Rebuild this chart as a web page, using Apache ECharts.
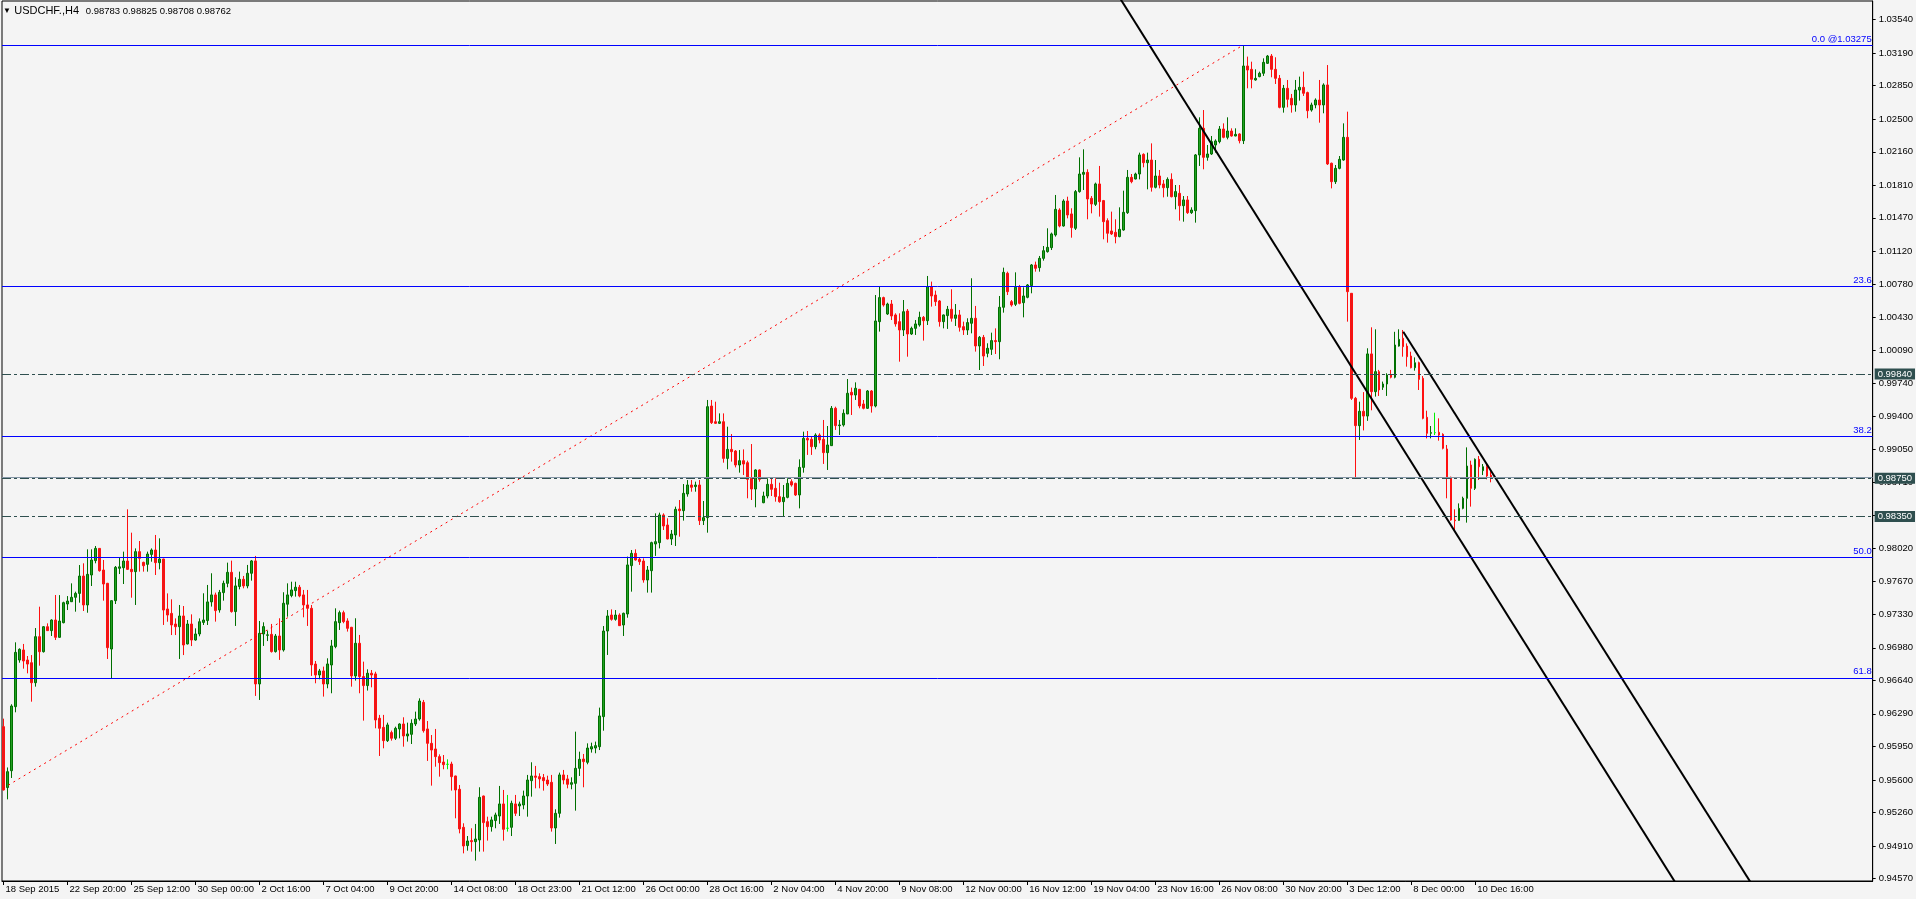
<!DOCTYPE html>
<html><head><meta charset="utf-8">
<script src="https://cdn.jsdelivr.net/npm/echarts@6/dist/echarts.min.js"></script>
<style>html,body{margin:0;padding:0;background:#f4f4f4;}#c{width:1916px;height:899px;}</style>
</head><body><div id="c"></div>
<script>
// ---------- data ----------
const symbolName = 'USDCHF.,H4';
const xLabels = ['18 Sep 2015','22 Sep 20:00','25 Sep 12:00','30 Sep 00:00','2 Oct 16:00','7 Oct 04:00','9 Oct 20:00','14 Oct 08:00','18 Oct 23:00','21 Oct 12:00','26 Oct 00:00','28 Oct 16:00','2 Nov 04:00','4 Nov 20:00','9 Nov 08:00','12 Nov 00:00','16 Nov 12:00','19 Nov 04:00','23 Nov 16:00','26 Nov 08:00','30 Nov 20:00','3 Dec 12:00','8 Dec 00:00','10 Dec 16:00'];
const barsPerLabel = 16;
const yTickLabels = ['1.03540','1.03190','1.02850','1.02500','1.02160','1.01810','1.01470','1.01120','1.00780','1.00430','1.00090','0.99740','0.99400','0.99050','0.98710','0.98360','0.98020','0.97670','0.97330','0.96980','0.96640','0.96290','0.95950','0.95600','0.95260','0.94910','0.94570'];

// prices in points (1 point = 0.00001)
const openPts = [
96156,95520,95696,96365,96852,96957,96852,96824,96615,97096,
96939,97200,97159,97270,97089,97242,97437,97461,97507,97548,
97729,97427,97740,97890,98018,97792,97653,96967,97472,97810,
97816,97886,97799,97775,97984,97872,97851,97955,98001,97869,
97907,97385,97339,97228,97200,97312,97020,97228,97061,97124,
97245,97264,97459,97532,97375,97556,97653,97768,97358,97620,
97695,97626,97758,97887,96602,97124,97110,97120,96940,97103,
96957,97435,97525,97577,97612,97532,97427,97392,96810,96696,
96738,96602,96800,96992,97242,97347,97260,97194,96686,97027,
96679,96585,96714,96707,96244,96149,96010,96094,96035,96132,
96184,96059,96076,96184,96236,96410,96132,95982,95923,95843,
95787,95763,95766,95641,95502,95105,94914,94966,94955,94973,
95432,95164,95112,95175,95223,95349,95095,95105,95349,95328,
95338,95432,95592,95641,95634,95624,95599,95575,95098,95251,
95652,95610,95554,95564,95721,95818,95784,95923,95933,95947,
96261,97155,97322,97277,97322,97218,97333,97838,97966,97904,
97886,97688,97785,98064,98078,98367,98262,98116,98158,98429,
98412,98586,98680,98663,98680,98308,98339,99505,99341,99324,
99341,98958,99052,99035,98889,98934,98913,98750,98638,98837,
98495,98565,98687,98645,98558,98506,98551,98715,98697,98576,
98864,99167,99157,99080,99202,99157,99018,99091,99481,99300,
99307,99422,99648,99620,99679,99526,99481,99662,99505,100386,
100637,100466,100570,100456,100386,100299,100497,100257,100316,100351,
100431,100396,100752,100664,100602,100386,100449,100515,100421,100456,
100334,100299,100369,100421,100132,100222,100055,100097,100188,100177,
100536,100891,100595,100567,100745,100584,100640,100762,100978,100950,
101047,101117,101159,101291,101552,101385,101646,101511,101361,101744,
101925,101945,101674,101611,101824,101650,101441,101333,101319,101274,
101343,101524,101893,101876,101928,102133,102046,102074,101789,101907,
101824,101785,101872,101691,101726,101597,101657,101524,101545,102127,
102405,102102,102137,102231,102266,102398,102311,102377,102325,102346,
102276,103056,103021,102910,102945,102980,103084,103160,103021,102927,
102624,102823,102718,102649,102805,102833,102778,102596,102649,102701,
102649,102858,102040,101848,101987,102074,102311,100682,99585,99300,
99450,99400,100049,99655,99864,99701,99735,99829,99805,100131,
100212,100131,100027,99905,99957,99794,99387,99220,99227,99230,
99209,99056,98760,98314,98310,98436,98541,98889,98645,98948,
98830,98871,98783];
const highPts = [
96240,95730,96390,97037,96974,97020,96894,96904,97186,97409,
97207,97235,97277,97531,97530,97461,97520,97653,97566,97844,
97862,98008,98008,98043,98022,97897,97658,97475,97834,97921,
97984,98426,98182,98018,98095,97879,97984,98018,98158,98123,
97910,97548,97486,97287,97427,97416,97270,97329,97183,97287,
97549,97636,97758,97556,97584,97681,97869,97890,97716,97775,
97730,97845,97897,97939,97260,97246,97160,97229,97124,97288,
97560,97653,97670,97670,97636,97584,97584,97427,96842,96759,
96783,96870,97062,97392,97368,97368,97288,97198,97288,97114,
96835,96755,96748,96730,96279,96279,96198,96115,96156,96191,
96254,96198,96233,96313,96452,96435,96215,96069,96132,95867,
95860,95815,95790,95644,95547,95147,95014,95095,95140,95523,
95436,95216,95216,95258,95537,95495,95443,95383,95443,95373,
95488,95652,95784,95746,95669,95662,95644,95652,95293,95676,
95704,95652,95627,96104,95895,95871,95982,95989,96000,96355,
97207,97374,97381,97374,97340,97347,97932,98001,98008,97921,
97914,97834,98088,98384,98391,98384,98332,98210,98454,98523,
98690,98732,98732,98715,98732,98513,99568,99568,99550,99428,
99428,99289,99212,99045,99045,99052,98934,99108,98844,98844,
98610,98750,98750,98750,98704,98680,98750,98739,98704,98948,
99237,99244,99185,99220,99220,99359,99296,99505,99498,99359,
99470,99787,99697,99752,99683,99568,99672,99672,100664,100752,
100647,100584,100612,100473,100473,100612,100518,100334,100403,100490,
100445,100863,100804,100710,100612,100460,100550,100724,100570,100508,
100386,100421,100839,100550,100236,100247,100160,100271,100316,100654,
100950,100908,100612,100901,100769,100745,100779,100988,101013,101072,
101176,101361,101316,101709,101570,101664,101691,101570,101761,102102,
102186,101977,101698,101838,102012,101657,101465,101535,101455,101580,
101754,101970,101928,101942,102151,102144,102151,102248,102074,101970,
101865,101893,101935,101813,101813,101698,101698,101580,102137,102520,
102596,102231,102325,102290,102429,102457,102520,102405,102405,102353,
103275,103154,103101,103021,102997,103136,103171,103181,103147,102962,
102858,102910,102764,102910,102945,102997,102788,102673,102718,102910,
102875,103066,102047,102022,102116,102457,102579,100685,99600,99550,
99650,100108,100327,100306,99882,99760,99847,99882,100280,100306,
100299,100159,100072,100013,99968,99818,99456,99296,99435,99376,
99220,99098,98767,98426,98488,98558,99073,98934,98958,98983,
98899,98899,98825];
const lowPts = [
95490,95397,95620,96306,96824,96762,96713,96417,96574,96793,
96930,97155,97103,97061,97085,97235,97374,97458,97357,97451,
97364,97346,97625,97862,97775,97472,96863,96660,97437,97750,
97646,97792,97503,97427,97775,97775,97775,97879,97740,97799,
97218,97252,97113,97113,96863,96904,97015,96998,97054,97100,
97218,97218,97410,97253,97347,97472,97612,97347,97208,97590,
97601,97601,97681,96477,96435,96999,97050,96930,96930,96853,
96940,97305,97507,97514,97507,97298,97208,96686,96609,96651,
96470,96557,96505,96975,97166,97236,97149,96574,96637,96505,
96219,96533,96567,96139,95850,95930,95996,96010,96017,96034,
95947,96000,95975,96163,96219,96094,95798,95540,95738,95634,
95711,95711,95488,95199,95042,94833,94861,94851,94757,94851,
94851,94966,95060,95095,95140,94966,95060,95014,95223,95223,
95293,95216,95425,95512,95512,95488,95537,95060,94931,95206,
95554,95512,95502,95279,95641,95523,95763,95885,95878,95912,
96114,96905,97263,97263,97208,97103,97294,97566,97890,97845,
97660,97556,97556,97939,98018,98210,98112,98053,98043,98140,
98308,98558,98610,98610,98262,98262,98182,99317,99317,99317,
98913,98844,98924,98864,98809,98784,98541,98523,98447,98715,
98490,98541,98565,98506,98495,98356,98541,98663,98565,98436,
98809,98994,98994,99053,99115,98900,98837,99088,99255,99202,
99290,99420,99411,99568,99481,99470,99474,99436,99491,100282,
100543,100456,100403,100334,99968,100236,100020,100247,100247,100334,
100188,100351,100543,100550,100334,100316,100310,100386,100341,100282,
100247,100247,100264,100073,99881,99923,100014,100038,100048,99993,
100480,100664,100543,100549,100567,100431,100630,100682,100908,100908,
101023,101107,101134,101274,101371,101378,101465,101263,101343,101733,
101761,101455,101517,101594,101483,101246,101211,101291,101204,101267,
101336,101511,101831,101872,101872,101998,101768,101744,101778,101778,
101684,101691,101684,101559,101441,101430,101511,101511,101420,102012,
101977,102067,102127,102151,102248,102301,102290,102318,102322,102248,
102241,102823,102823,102903,102938,102952,103077,102938,102868,102614,
102569,102624,102569,102579,102694,102743,102510,102579,102614,102464,
102562,102022,101778,101824,101977,102067,100386,99568,98760,99150,
99250,99350,99460,99603,99610,99673,99610,99794,99794,100125,
100020,99916,99898,99874,99672,99366,99167,99167,99202,99143,
99052,98541,98307,98193,98307,98426,98287,98454,98628,98732,
98784,98739,98708];
const closePts = [
95495,95686,96372,96932,96964,96842,96810,96615,97096,96939,
97200,97159,97270,97089,97259,97451,97468,97507,97548,97729,
97427,97747,97897,98018,97785,97646,96981,97472,97820,97825,
97886,97799,97775,97984,97914,97837,97959,98001,97869,97907,
97374,97322,97218,97200,97312,97009,97228,97061,97124,97252,
97270,97459,97532,97368,97559,97653,97768,97358,97626,97695,
97626,97758,97887,96602,97131,97201,97115,96940,97103,96957,
97445,97532,97584,97612,97521,97427,97392,96801,96696,96738,
96602,96811,96999,97253,97347,97253,97183,96686,97027,96679,
96585,96714,96696,96226,96139,96010,96174,96035,96139,96184,
96059,96080,96191,96236,96424,96114,95982,95912,95843,95780,
95759,95763,95634,95495,95088,94910,94962,94955,94983,95418,
95154,95112,95182,95234,95349,95084,95095,95356,95251,95349,
95432,95599,95641,95627,95610,95592,95557,95098,95251,95652,
95599,95554,95571,95721,95815,95791,95933,95947,95958,96268,
97155,97312,97277,97322,97211,97340,97845,97966,97897,97879,
97688,97792,98078,98088,98367,98252,98116,98168,98426,98412,
98593,98680,98656,98680,98308,98339,99498,99331,99324,99341,
98958,99052,99028,98889,98934,98899,98739,98638,98837,98739,
98565,98687,98635,98558,98506,98551,98697,98680,98576,98864,
99167,99150,99080,99202,99150,99018,99098,99481,99300,99307,
99429,99638,99620,99690,99505,99481,99662,99505,100393,100637,
100560,100570,100445,100362,100299,100490,100257,100316,100362,100431,
100396,100752,100654,100595,100386,100456,100515,100421,100456,100327,
100299,100376,100421,100132,100222,100027,100108,100188,100177,100536,
100901,100699,100560,100745,100577,100654,100769,100978,100943,101047,
101127,101162,101302,101559,101385,101646,101500,101368,101744,101928,
101945,101667,101615,101824,101639,101430,101309,101302,101274,101350,
101528,101893,101848,101928,102127,102046,102074,101789,101907,101813,
101785,101872,101691,101744,101597,101657,101524,101552,102127,102405,
102102,102137,102266,102273,102398,102311,102377,102325,102342,102276,
103056,103014,102917,102927,102980,103094,103160,103021,102927,102624,
102823,102708,102649,102805,102833,102771,102589,102649,102701,102649,
102858,102033,101848,101987,102081,102311,100699,99585,99300,99450,
99400,100049,99655,99864,99673,99735,99829,99805,100142,100201,
100125,100020,99905,99957,99783,99376,99220,99227,99227,99202,
99063,98749,98314,98307,98436,98541,98878,98645,98948,98871,
98871,98774,98762];

// Fibonacci retracement object
const fibHigh = 1.03275;
const fibLow = 0.92581;
const fibHighBar = 310;
const fibLowBar = -117.2;
const fibLevels = [0, 23.6, 38.2, 50.0, 61.8];
const fibLabels = ['0.0 @1.03275', '23.6', '38.2', '50.0', '61.8'];
// horizontal level lines (dash-dot)
const levelLines = [0.99840, 0.98750, 0.98350];
// trend lines: [barIndex, price]
const trendLine1 = [[270, 1.043737], [430, 0.937327]];
const trendLine2 = [[350, 1.00281], [445, 0.93991]];

// ---------- chart ----------
const AXF = "'Liberation Sans',Arial,sans-serif";
const AXS = 9.5;
const last = openPts.length - 1;
const candles = openPts.map((o, i) => [i, o / 1e5, closePts[i] / 1e5, lowPts[i] / 1e5, highPts[i] / 1e5]);
const xTickVals = xLabels.map((_, i) => i * barsPerLabel);
const yTickVals = yTickLabels.map(Number);
const fibPrice = l => fibHigh - (fibHigh - fibLow) * l / 100;
const bidPrice = closePts[last] / 1e5;
const titleNums = [openPts[last], highPts[last], lowPts[last], closePts[last]].map(v => (v / 1e5).toFixed(5)).join(' ');

const fibMarks = fibLevels.map((l, i) => ({
  yAxis: fibPrice(l),
  lineStyle: { color: '#0000ff', width: 1, type: 'solid' },
  label: { show: true, position: 'insideEndTop', formatter: fibLabels[i], color: '#0000ff', fontSize: AXS, fontFamily: AXF, distance: [1, 1] }
}));
const levelMarks = levelLines.map(p => ({
  yAxis: p,
  lineStyle: { color: '#2f4f4f', width: 1, type: [9, 3, 3, 3] },
  label: { show: true, position: 'end', formatter: p.toFixed(5), color: '#ffffff', backgroundColor: '#2f4f4f', padding: [1, 3, 0, 3], distance: 2, fontSize: AXS, fontFamily: AXF }
}));
const bidMark = { yAxis: bidPrice, lineStyle: { color: '#8596a6', width: 1, type: 'solid' }, label: { show: false } };

const chart = echarts.init(document.getElementById('c'), null, { renderer: 'canvas', width: 1916, height: 899 });
chart.setOption({
  animation: false,
  backgroundColor: '#f4f4f4',
  textStyle: { fontFamily: AXF },
  grid: { left: 2, right: 43, top: 1, bottom: 18, show: true, borderColor: '#000', borderWidth: 1, backgroundColor: 'transparent' },
  xAxis: {
    type: 'value', min: -0.375, max: 467.375,
    axisLine: { show: true, onZero: false, lineStyle: { color: '#000', width: 1 } },
    axisTick: { show: true, customValues: xTickVals, length: 4, lineStyle: { color: '#000' } },
    axisLabel: { show: true, customValues: xTickVals, formatter: v => xLabels[Math.round(v / barsPerLabel)], align: 'left', margin: 3, padding: [0, 0, 0, 2], color: '#000', fontSize: AXS, fontFamily: AXF },
    splitLine: { show: false }
  },
  yAxis: {
    type: 'value', position: 'right', min: 0.945442, max: 1.037348, scale: true,
    axisLine: { show: true, onZero: false, lineStyle: { color: '#000', width: 1 } },
    axisTick: { show: true, customValues: yTickVals, length: 3, lineStyle: { color: '#000' } },
    axisLabel: { show: true, customValues: yTickVals, formatter: v => v.toFixed(5), margin: 6, color: '#000', fontSize: AXS, fontFamily: AXF },
    splitLine: { show: false }
  },
  series: [
    {
      type: 'candlestick', data: candles, encode: { x: 0, y: [1, 2, 3, 4] },
      barWidth: 2, clip: true, silent: true,
      itemStyle: { color: '#22a022', color0: '#e41b1b', borderColor: '#006f00', borderColor0: '#ff1010', borderColorDoji: '#00ee00', borderWidth: 1 },
      markLine: { silent: true, precision: 5, symbol: ['none', 'none'], animation: false, data: [bidMark].concat(levelMarks, fibMarks) }
    },
    { type: 'line', data: [[fibLowBar, fibLow], [fibHighBar, fibHigh]], symbol: 'none', silent: true, clip: true, lineStyle: { color: '#ff0000', width: 1, type: [2, 4] } },
    { type: 'line', data: trendLine1, symbol: 'none', silent: true, clip: true, lineStyle: { color: '#000', width: 2 } },
    { type: 'line', data: trendLine2, symbol: 'none', silent: true, clip: true, lineStyle: { color: '#000', width: 2 } }
  ],
  graphic: [{
    type: 'text', left: 3, top: 5, z: 100,
    style: {
      text: '{t|▼} {a|' + symbolName + '}  {b|' + titleNums + '}',
      rich: {
        t: { fontSize: 8, fontFamily: AXF, fill: '#000' },
        a: { fontSize: 11, fontFamily: AXF, fill: '#000' },
        b: { fontSize: AXS, fontFamily: AXF, fill: '#000' }
      }
    }
  }]
});
</script>
</body></html>
